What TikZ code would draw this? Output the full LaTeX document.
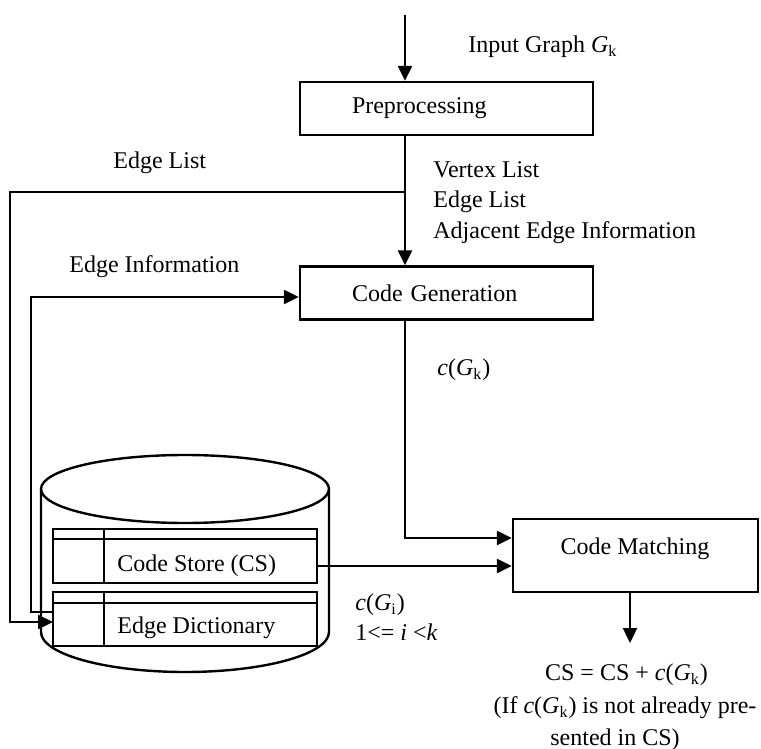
\documentclass[tikz,border=0pt]{standalone}
\usepackage{fontspec}
\setmainfont{Liberation Serif}
\usetikzlibrary{arrows.meta}
\begin{document}
\begin{tikzpicture}[x=0.5pt,y=-0.5pt,
  every node/.style={font=\fontsize{12}{14}\selectfont},
  ln/.style={line width=1.2pt},
  arr/.style={line width=1.2pt,-{Triangle[length=7.5pt,width=7pt]}},
  procbox/.style={draw,line width=1.2pt,minimum height=26.5pt,inner xsep=26pt,text width=94.5pt,align=left},
  lbl/.style={anchor=west,inner sep=0pt},
  clbl/.style={anchor=center,inner sep=0pt}]
\useasboundingbox (0,0) rectangle (761,749);

% process boxes
\node[procbox] (pre) at (446.5,108.5) {Preprocessing};
\node[procbox] (cg) at (446.5,293) {Code Generation};
\node[draw,line width=1.2pt,minimum width=122.5pt,minimum height=36.5pt] (cm) at (635.5,555.5) {};
\node[clbl] (cmt) at (635,549) {Code Matching};

% cylinder (code store / edge dictionary)
\draw[ln] (185,489) ellipse [x radius=144,y radius=34];
\draw[ln] (41,489) -- (41,632) arc[start angle=180,end angle=0,x radius=144,y radius=40] -- (329,489);
\draw[ln,fill=white] (53,529) rectangle (317,583);
\draw[ln] (53,539) -- (317,539) (104,529) -- (104,583);
\draw[ln,fill=white] (53,592) rectangle (317,646);
\draw[ln] (53,603) -- (317,603) (104,592) -- (104,646);
\node[lbl] (cs) at (117,566) {Code Store (CS)};
\node[lbl] (ed) at (117,628) {Edge Dictionary};
\coordinate (csE) at (317,566);
\coordinate (edIn) at (53,622);
\coordinate (edOut) at (53,612);

% coordinates
\coordinate (top) at (405,15);
\coordinate (br) at (405,192);
\coordinate (cmOut) at (630,643);

% connectors
\draw[arr] (top) -- (top |- pre.north);
\draw[arr] (pre.south -| top) -- (cg.north -| top);
\draw[arr] (br) -- (10,192) -- (10,622) -- (edIn);
\draw[arr] (edOut) -- (31,612) -- (31,297) -- (cg.west |- 0,297);
\draw[arr] (cg.south -| top) -- (405,538) -- (cm.west |- 0,538);
\draw[arr] (csE) -- (cm.west |- csE);
\draw[arr] (cm.south -| cmOut) -- (cmOut);

% labels
\node[lbl] at (468,47) {Input Graph \textit{G}\textsubscript{k}};
\node[lbl] at (433,170) {Vertex List};
\node[lbl] at (433,202) {Edge List};
\node[lbl] at (433,233) {Adjacent Edge Information};
\node[lbl] at (113,163) {Edge List};
\node[lbl] at (69,267) {Edge Information};
\node[lbl] at (437,370) {\textit{c}(\textit{G}\textsubscript{k})};
\node[lbl] at (355,605) {\textit{c}(\textit{G}\textsubscript{i})};
\node[lbl] at (355,632) {1<= \textit{i} <\textit{k}};
\node[clbl] at (626.5,675) {CS = CS + \textit{c}(\textit{G}\textsubscript{k})};
\node[clbl] at (625,708) {(If \textit{c}(\textit{G}\textsubscript{k}) is not already pre-};
\node[clbl] at (615,740) {sented in CS)};
\end{tikzpicture}
\end{document}
